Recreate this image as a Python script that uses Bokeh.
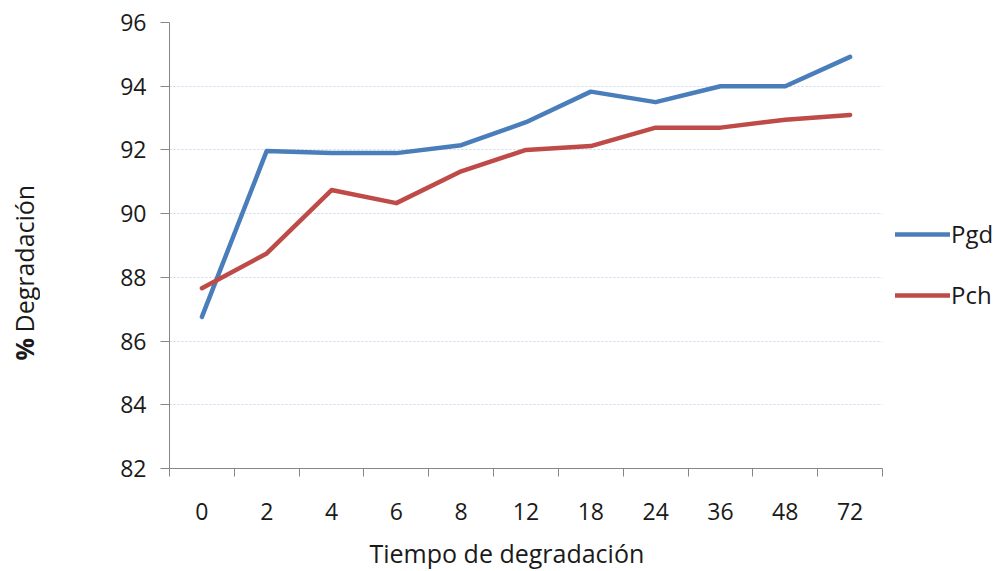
import math
from bokeh.plotting import figure
from bokeh.layouts import row
from bokeh.models import Range1d, FixedTicker, Legend, LegendItem, Title
from bokeh.core.properties import value
from bokeh.embed import file_html
from bokeh.resources import INLINE

categories = ["0", "2", "4", "6", "8", "12", "18", "24", "36", "48", "72"]
pgd = [86.76, 91.97, 91.90, 91.90, 92.15, 92.87, 93.83, 93.50, 94.00, 94.00, 94.92]
pch = [87.66, 88.75, 90.74, 90.33, 91.33, 92.00, 92.12, 92.70, 92.70, 92.95, 93.10]
y_ticks = [82, 84, 86, 88, 90, 92, 94, 96]
series_names = ["Pgd", "Pch"]
x_title = "Tiempo de degradación"
y_title_bold = "%"
y_title_rest = "Degradación"

FONT = "Open Sans"
AXIS_COLOR = "#868686"
TEXT_COLOR = "#1a1a1a"
W, H = 997, 571
LEFT_W = 40
FRAME_L, FRAME_R, FRAME_T, FRAME_B = 169, 882, 22, 468

idx = list(range(len(categories)))

# narrow strip on the left that carries the vertical axis title;
# its frame is aligned with the main plot's frame, so map page pixels accordingly
yfig = figure(frame_width=LEFT_W, frame_height=FRAME_B - FRAME_T,
              output_backend="svg", toolbar_location=None,
              x_axis_type=None, y_axis_type=None,
              x_range=Range1d(0, LEFT_W), y_range=Range1d(H - FRAME_B, H - FRAME_T),
              min_border_left=0, min_border_right=0,
              min_border_top=FRAME_T, min_border_bottom=H - FRAME_B)
yfig.outline_line_color = None
yfig.text(x=[23.5], y=[H - 360], text=[y_title_bold], angle=math.pi / 2,
          text_align="left", text_baseline="middle", text_font=value(FONT),
          text_font_size="25px", text_font_style="bold", text_color=TEXT_COLOR)
yfig.text(x=[23.5], y=[H - 332], text=[y_title_rest], angle=math.pi / 2,
          text_align="left", text_baseline="middle", text_font=value(FONT),
          text_font_size="25px", text_color=TEXT_COLOR)

p = figure(frame_width=FRAME_R - FRAME_L, frame_height=FRAME_B - FRAME_T,
           output_backend="svg", toolbar_location=None,
           x_range=Range1d(-0.5, len(categories) - 0.5),
           y_range=Range1d(y_ticks[0], y_ticks[-1]),
           min_border_left=FRAME_L - LEFT_W, min_border_right=W - FRAME_R,
           min_border_top=FRAME_T, min_border_bottom=H - FRAME_B)
p.outline_line_color = None

r1 = p.line(idx, pgd, line_color="#4a7ebb", line_width=4.5, line_join="round", line_cap="round")
r2 = p.line(idx, pch, line_color="#be4b48", line_width=4.5, line_join="round", line_cap="round")

# grid
p.xgrid.visible = False
p.ygrid.grid_line_color = "#c9d7ea"
p.ygrid.grid_line_dash = "2 2"
p.ygrid.grid_line_width = 1

# y axis
p.yaxis.ticker = FixedTicker(ticks=y_ticks)
p.yaxis.axis_line_color = AXIS_COLOR
p.yaxis.major_tick_line_color = AXIS_COLOR
p.yaxis.major_tick_out = 9
p.yaxis.major_tick_in = 0
p.yaxis.minor_tick_line_color = None
p.yaxis.major_label_standoff = 14
p.yaxis.major_label_text_font = FONT
p.yaxis.major_label_text_font_size = "23px"
p.yaxis.major_label_text_color = TEXT_COLOR

# x axis: labels at category centres, tick marks at category boundaries
p.xaxis.ticker = FixedTicker(ticks=idx, minor_ticks=[i - 0.5 for i in range(len(categories) + 1)])
p.xaxis.major_label_overrides = {i: c for i, c in zip(idx, categories)}
p.xaxis.axis_line_color = AXIS_COLOR
p.xaxis.major_tick_line_color = None
p.xaxis.major_tick_out = 0
p.xaxis.major_tick_in = 0
p.xaxis.minor_tick_line_color = AXIS_COLOR
p.xaxis.minor_tick_out = 8
p.xaxis.minor_tick_in = 0
p.xaxis.major_label_standoff = 26
p.xaxis.major_label_text_font = FONT
p.xaxis.major_label_text_font_size = "23px"
p.xaxis.major_label_text_color = TEXT_COLOR

# horizontal axis title
p.add_layout(Title(text=x_title, align="left", offset=200, standoff=23,
                   text_font=FONT, text_font_size="25px", text_font_style="normal",
                   text_color=TEXT_COLOR), "below")

legend = Legend(items=[LegendItem(label=series_names[0], renderers=[r1]),
                       LegendItem(label=series_names[1], renderers=[r2])],
                location=(13, 157), orientation="vertical",
                label_text_font=FONT, label_text_font_size="24px", label_text_color=TEXT_COLOR,
                glyph_width=55, glyph_height=24, label_height=24, label_standoff=1,
                spacing=28, padding=0, margin=0,
                border_line_color=None, background_fill_alpha=0)
p.add_layout(legend, "right")

layout = row(yfig, p)
open("out.html", "w").write(file_html(layout, INLINE))
